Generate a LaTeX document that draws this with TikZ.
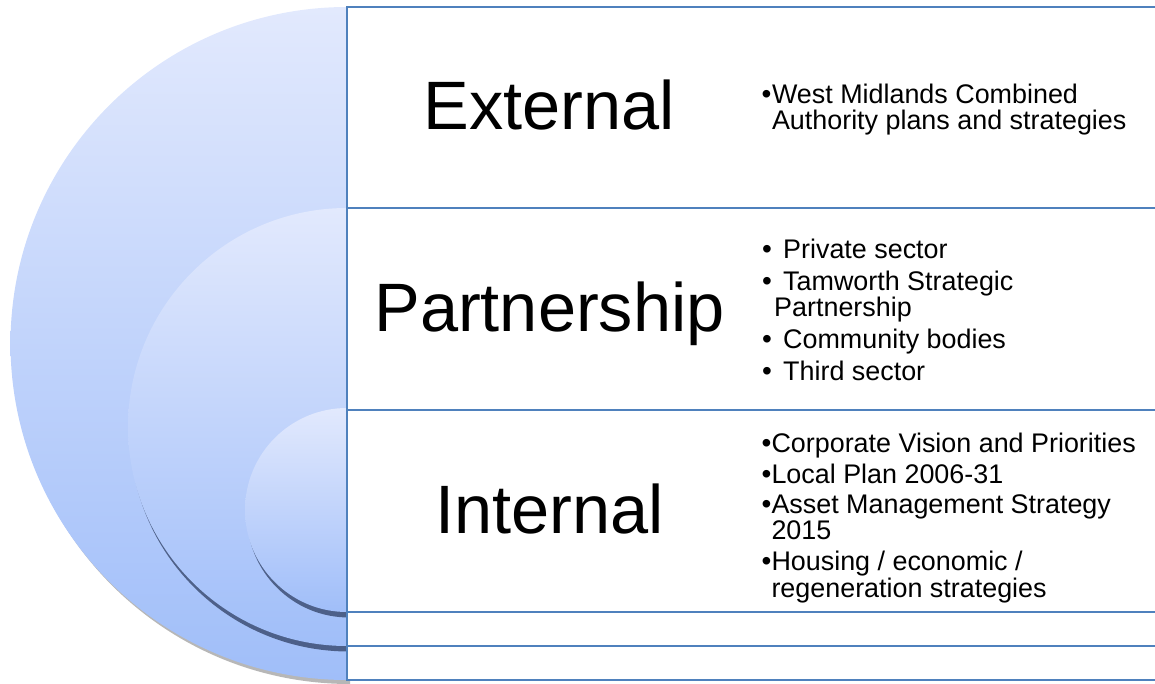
\documentclass[tikz,border=0pt]{standalone}
\usepackage{fontspec}
\setmainfont{Liberation Sans}
\usetikzlibrary{shadows}
\definecolor{boxblue}{RGB}{79,129,189}
\definecolor{disktop}{RGB}{226,233,253}
\definecolor{diskbot}{RGB}{160,190,249}
\definecolor{shadowdark}{RGB}{40,55,90}
\tikzset{
  disk/.style={top color=disktop, bottom color=diskbot, draw=none},
  outershadow/.style={drop shadow={shadow xshift=3pt, shadow yshift=-4pt, fill=black!40, opacity=0.7}},
  innershadow/.style={drop shadow={shadow xshift=2pt, shadow yshift=-5.5pt, fill=shadowdark, opacity=0.7}},
  panel/.style={draw=boxblue, line width=1.5pt, fill=white},
  big/.style={font=\fontsize{68.5}{70}\selectfont, anchor=base, inner sep=0pt},
  li/.style={font=\fontsize{26.9}{27}\selectfont, anchor=base west, inner sep=0pt},
  bul/.style={font=\fontsize{28}{28}\selectfont, anchor=base west, inner sep=0pt}
}
\begin{document}
\begin{tikzpicture}[x=1pt,y=-1pt]
\useasboundingbox (0,0) rectangle (1155,684);
\begin{scope}
\clip (0,0) rectangle (1155,684);
% half disks
\path[disk, outershadow] (347,7) arc[start angle=90, end angle=270, radius=336.5pt] -- cycle;
\path[disk, innershadow] (347,208) arc[start angle=90, end angle=270, radius=219pt] -- cycle;
\path[disk, innershadow] (347,408) arc[start angle=90, end angle=270, radius=102pt] -- cycle;
% panels
\path[panel] (347,7) rectangle (1170,208);
\path[panel] (347,208) rectangle (1170,410);
\path[panel] (347,410) rectangle (1170,612);
\path[panel] (347,612) rectangle (1170,646);
\path[panel] (347,646) rectangle (1170,680);
\end{scope}
% big labels
\node[big] (ext) at (549.5,130) {External};
\node[big] (par) at (549.5,331.7) {Partnership};
\node[big] (int) at (549.5,533.5) {Internal};
% external list
\node[bul] (eb1) at (761.5,103.3) {•};
\node[li] (e1) at (771.8,103.3) {West Midlands Combined};
\node[li] (e2) at (771.8,129.8) {Authority plans and strategies};
% partnership list
\node[bul] (pb1) at (762,258.3) {•};
\node[li] (p1) at (783,258.3) {Private sector};
\node[bul] (pb2) at (762,290.7) {•};
\node[li] (p2) at (783,290.7) {Tamworth Strategic};
\node[li] (p3) at (774,316.7) {Partnership};
\node[bul] (pb3) at (762,348.3) {•};
\node[li] (p4) at (783,348.3) {Community bodies};
\node[bul] (pb4) at (762,380.7) {•};
\node[li] (p5) at (783,380.7) {Third sector};
% internal list
\node[bul] (ib1) at (761.5,452.3) {•};
\node[li] (i1) at (771.3,452.3) {Corporate Vision and Priorities};
\node[bul] (ib2) at (761.5,483) {•};
\node[li] (i2) at (771.3,483) {Local Plan 2006-31};
\node[bul] (ib3) at (761.5,513) {•};
\node[li] (i3) at (771.3,513) {Asset Management Strategy};
\node[li] (i4) at (771.3,539.5) {2015};
\node[bul] (ib4) at (761.5,570) {•};
\node[li] (i5) at (771.3,570) {Housing / economic /};
\node[li] (i6) at (771.3,597) {regeneration strategies};
\end{tikzpicture}
\end{document}
